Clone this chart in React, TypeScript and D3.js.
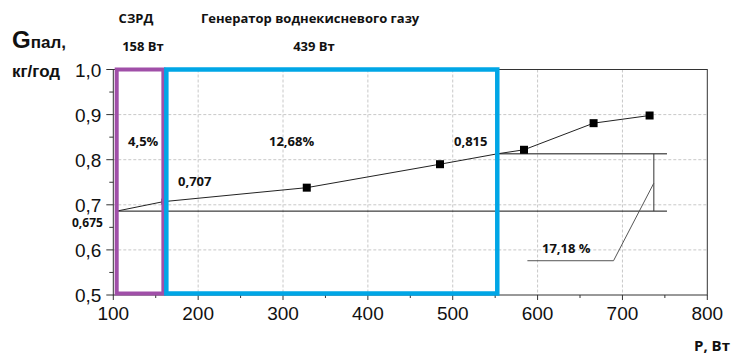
import React, { useEffect, useRef } from 'react';
import * as d3 from 'd3';

// measured curve
const powerW = [104, 159, 328, 485, 552.5, 584, 666, 732];
const gPal = [0.686, 0.707, 0.738, 0.79, 0.813, 0.822, 0.881, 0.898];
const markerIdx = [2, 3, 5, 6, 7];

const xTicks = [100, 200, 300, 400, 500, 600, 700, 800];
const yTicks = [0.5, 0.6, 0.7, 0.8, 0.9, 1.0];

// zones: [from, to]
const purpleZone = [104, 159];
const blueZone = [162.5, 552.5];

// reference lines
const baseLevel = 0.686;
const topLevel = 0.813;
const refLineEnd = 752.5;
const bracketX = 737;
const leaderX = [737, 689.5, 588];
const leaderY = [0.748, 0.576, 0.576];

const App = () => {
  const ref = useRef<SVGSVGElement | null>(null);

  useEffect(() => {
    if (!ref.current) return;
    const svg = d3.select(ref.current);
    svg.selectAll('*').remove();

    const x = d3.scaleLinear().domain([100, 800]).range([113.3, 707.3]);
    const y = d3.scaleLinear().domain([0.5, 1.0]).range([295, 69.5]);
    const axisColor = '#333';
    const fontAxis = '"Liberation Sans", Arial, sans-serif';
    const fontNote = '"Open Sans", sans-serif';

    // grid
    const grid = svg.append('g');
    xTicks.slice(1, -1).forEach(t => {
      grid.append('line')
        .attr('x1', x(t)).attr('x2', x(t))
        .attr('y1', y(1.0)).attr('y2', y(0.5))
        .attr('stroke', '#c8c8c8').attr('stroke-dasharray', '3,2');
    });
    yTicks.slice(1, -1).forEach(t => {
      grid.append('line')
        .attr('x1', x(100)).attr('x2', x(800))
        .attr('y1', y(t)).attr('y2', y(t))
        .attr('stroke', '#c8c8c8').attr('stroke-dasharray', '3,2');
    });

    // frame
    svg.append('rect')
      .attr('x', x(100)).attr('y', y(1.0))
      .attr('width', x(800) - x(100)).attr('height', y(0.5) - y(1.0))
      .attr('fill', 'none').attr('stroke', axisColor).attr('stroke-width', 1);

    // ticks
    xTicks.forEach(t => {
      svg.append('line').attr('x1', x(t)).attr('x2', x(t))
        .attr('y1', y(0.5)).attr('y2', y(0.5) + 5).attr('stroke', axisColor);
      svg.append('text').attr('x', x(t)).attr('y', y(0.5) + 25)
        .attr('text-anchor', 'middle').style('font-family', fontAxis)
        .style('font-size', '19px').attr('fill', '#111').text(t);
    });
    d3.range(150, 800, 100).forEach(t => {
      svg.append('line').attr('x1', x(t)).attr('x2', x(t))
        .attr('y1', y(0.5)).attr('y2', y(0.5) + 3).attr('stroke', axisColor);
    });
    yTicks.forEach(t => {
      svg.append('line').attr('x1', x(100) - 7).attr('x2', x(100))
        .attr('y1', y(t)).attr('y2', y(t)).attr('stroke', axisColor);
      svg.append('text').attr('x', x(100) - 12).attr('y', y(t) + 7)
        .attr('text-anchor', 'end').style('font-family', fontAxis)
        .style('font-size', '19px').attr('fill', '#111')
        .text(d3.format('.1f')(t).replace('.', ','));
    });
    d3.range(0.55, 1.0, 0.1).forEach(t => {
      svg.append('line').attr('x1', x(100) - 4).attr('x2', x(100))
        .attr('y1', y(t)).attr('y2', y(t)).attr('stroke', axisColor);
    });

    // reference lines
    svg.append('line').attr('x1', x(powerW[0])).attr('x2', x(refLineEnd))
      .attr('y1', y(baseLevel)).attr('y2', y(baseLevel)).attr('stroke', '#111');
    svg.append('line').attr('x1', x(blueZone[1])).attr('x2', x(refLineEnd))
      .attr('y1', y(topLevel)).attr('y2', y(topLevel)).attr('stroke', '#111');
    svg.append('line').attr('x1', x(bracketX)).attr('x2', x(bracketX))
      .attr('y1', y(topLevel)).attr('y2', y(baseLevel)).attr('stroke', '#333');
    const leader = d3.line<number>().x((d, i) => x(leaderX[i])).y((d, i) => y(leaderY[i]));
    svg.append('path').attr('d', leader(leaderX)).attr('fill', 'none').attr('stroke', '#555');

    // curve
    const pts = powerW.map((p, i) => [p, gPal[i]] as [number, number]);
    const line = d3.line<[number, number]>()
      .x(d => x(d[0])).y(d => y(d[1]));
    svg.append('path').attr('d', line(pts)).attr('fill', 'none')
      .attr('stroke', '#222').attr('stroke-width', 1);

    svg.selectAll('.marker').data(markerIdx).enter().append('rect')
      .attr('x', i => x(powerW[i]) - 4).attr('y', i => y(gPal[i]) - 4)
      .attr('width', 8).attr('height', 8).attr('fill', '#000');
    svg.append('line').attr('x1', x(powerW[1]) - 1.5).attr('x2', x(powerW[1]) - 1.5)
      .attr('y1', y(gPal[1]) - 3).attr('y2', y(gPal[1]) + 3).attr('stroke', '#222');

    // zones
    svg.append('rect')
      .attr('x', x(purpleZone[0])).attr('y', y(1.0))
      .attr('width', x(purpleZone[1]) - x(purpleZone[0]))
      .attr('height', y(0.5) - y(1.0) - 1.5)
      .attr('fill', 'none').attr('stroke', '#a04fa8').attr('stroke-width', 4);
    svg.append('rect')
      .attr('x', x(blueZone[0])).attr('y', y(1.0))
      .attr('width', x(blueZone[1]) - x(blueZone[0]))
      .attr('height', y(0.5) - y(1.0) - 1.5)
      .attr('fill', 'none').attr('stroke', '#00a6e6').attr('stroke-width', 4.5);

    // notes
    const note = (tx: number, ty: number, s: string, anchor = 'start', size = 13) =>
      svg.append('text').attr('x', tx).attr('y', ty).attr('text-anchor', anchor)
        .style('font-family', fontNote).style('font-weight', 'bold')
        .style('font-size', `${size}px`).attr('fill', '#111').text(s);

    note(136, 23, 'СЗРД', 'middle');
    note(201, 23, 'Генератор воднекисневого газу');
    note(143, 51, '158 Вт', 'middle');
    note(314, 51, '439 Вт', 'middle');
    note(128, 146, '4,5%');
    note(269, 146, '12,68%');
    note(178, 186, '0,707');
    note(72, 227, '0,675', 'start', 12);
    note(454, 146, '0,815');
    note(542, 253, '17,18 %');

    // axis titles
    const ylab = svg.append('text').attr('x', 12).attr('y', 48)
      .style('font-family', fontAxis).style('font-weight', 'bold').attr('fill', '#111');
    ylab.append('tspan').style('font-size', '24px').text('G');
    ylab.append('tspan').style('font-size', '17px').text('пал,');
    svg.append('text').attr('x', 12).attr('y', 77)
      .style('font-family', fontAxis).style('font-weight', 'bold')
      .style('font-size', '17px').attr('fill', '#111').text('кг/год');
    svg.append('text').attr('x', 730).attr('y', 351).attr('text-anchor', 'end')
      .style('font-family', fontNote).style('font-weight', 'bold')
      .style('font-size', '15px').attr('fill', '#111').text('P, Вт');
  }, []);

  return (
    <svg ref={ref} width={731} height={355}
      style={{ position: 'absolute', left: 0, top: 0, background: '#fff' }} />
  );
};

export default App;
